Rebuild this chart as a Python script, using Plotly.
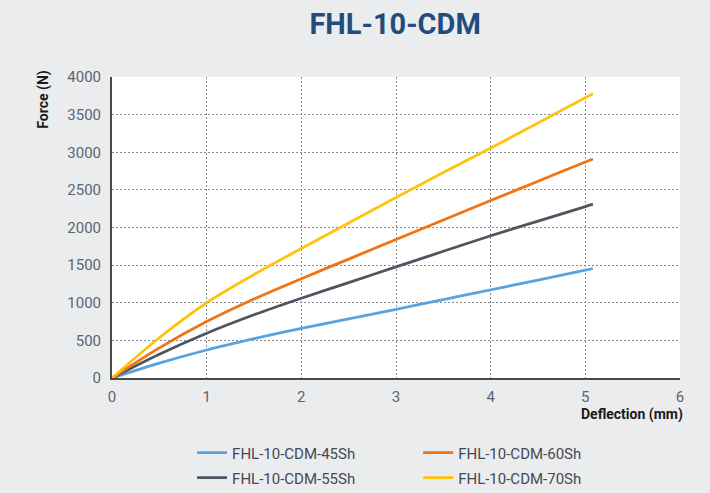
import plotly.graph_objects as go

deflection = [0, 0.5, 1, 1.5, 2, 2.5, 3, 3.5, 4, 4.5, 5, 5.08]
force_45 = [0, 198, 372, 522, 660, 787, 912, 1043, 1172, 1302, 1432, 1455]
force_55 = [0, 315, 595, 840, 1060, 1268, 1476, 1684, 1890, 2085, 2278, 2310]
force_60 = [0, 400, 750, 1050, 1320, 1580, 1840, 2100, 2358, 2615, 2870, 2910]
force_70 = [0, 535, 1000, 1375, 1720, 2060, 2400, 2730, 3055, 3390, 3725, 3776]

series = [
    ("FHL-10-CDM-45Sh", force_45, "#5ba3dc", "legend"),
    ("FHL-10-CDM-55Sh", force_55, "#4d5660", "legend2"),
    ("FHL-10-CDM-60Sh", force_60, "#f07414", "legend3"),
    ("FHL-10-CDM-70Sh", force_70, "#ffc20e", "legend4"),
]

x_ticks = [0, 1, 2, 3, 4, 5, 6]
y_ticks = [0, 500, 1000, 1500, 2000, 2500, 3000, 3500, 4000]

fig = go.Figure()
for name, vals, col, lg in series:
    fig.add_trace(go.Scatter(x=deflection, y=vals, mode="lines", name=name, legend=lg,
                             line=dict(color=col, width=2.8, shape="spline", smoothing=0.8)))

FONT = "Roboto"
LEGFONT = dict(family=FONT, size=15, color="#444a52")
GRID = dict(showgrid=True, gridcolor="#858c94", griddash="1.5px,2.5px", gridwidth=1)


def leg(x, y):
    return dict(x=x, xanchor="left", y=y, yanchor="middle", font=LEGFONT,
                bgcolor="rgba(0,0,0,0)", borderwidth=0)


fig.update_layout(
    width=710, height=493,
    margin=dict(l=112, r=30, t=77, b=115, autoexpand=False),
    paper_bgcolor="#ebecee",
    plot_bgcolor="#ffffff",
    font=dict(family=FONT, color="#5b6570", size=15),
    title=dict(text="<b>FHL-10-CDM</b>", x=0.5565, xanchor="center", y=0.951, yanchor="middle",
               font=dict(family=FONT, size=29, color="#234c7c")),
    showlegend=True,
    legend=leg(0.141, -0.249),
    legend2=leg(0.141, -0.332),
    legend3=leg(0.539, -0.249),
    legend4=leg(0.539, -0.332),
    xaxis=dict(range=[0, 6], tickvals=x_ticks, **GRID, showline=True, linecolor="#4a4a4a",
               linewidth=2, zeroline=False, ticks="", ticklabelstandoff=4,
               tickfont=dict(size=15, color="#5b6570")),
    yaxis=dict(range=[0, 4000], tickvals=y_ticks, **GRID, showline=True, linecolor="#4a4a4a",
               linewidth=2, zeroline=False, ticks="", ticklabelstandoff=6,
               tickfont=dict(size=15, color="#5b6570")),
    annotations=[
        dict(text="<b>Force (N)</b>", textangle=-90, xref="paper", yref="paper",
             x=-0.121, y=1.03, xanchor="center", yanchor="top", showarrow=False,
             font=dict(family=FONT, size=14, color="#1a1a1a")),
        dict(text="<b>Deflection (mm)</b>", xref="paper", yref="paper",
             x=1.008, y=-0.085, xanchor="right", yanchor="top", showarrow=False,
             font=dict(family=FONT, size=14, color="#1a1a1a")),
    ],
)

fig.write_html("out.html", config={"displayModeBar": False},
               post_script="document.body.style.margin='0px';")
